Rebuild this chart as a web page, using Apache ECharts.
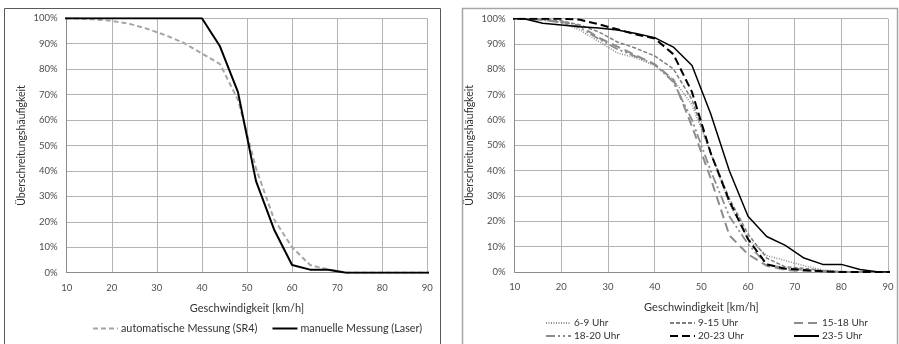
<!DOCTYPE html>
<html>
<head>
<meta charset="utf-8">
<script src="https://cdn.jsdelivr.net/npm/echarts@6/dist/echarts.min.js"></script>
<style>
  html, body { margin: 0; padding: 0; background: #fff; }
  #chart { width: 899px; height: 344px; }
</style>
</head>
<body>
<div id="chart"></div>
<script>
// Speed classes in km/h (4 km/h steps, axis shows 10–90)
const speeds = [8, 12, 16, 20, 24, 28, 32, 36, 40, 44, 48, 52, 56, 60, 64, 68, 72, 76, 80, 84, 88, 92];

// Left panel: exceedance frequency (%) by measurement method
const autoSR4   = [100, 99.9, 99.6, 99, 97.8, 95.8, 93.3, 90.3, 86.2, 82, 68, 41, 21, 10, 3, 1.3, 0, 0, 0, 0, 0, 0];
const laser     = [100, 100, 100, 100, 100, 100, 100, 100, 100, 89, 71, 36, 17, 3, 1.2, 1.2, 0, 0, 0, 0, 0, 0];

// Right panel: exceedance frequency (%) by time of day
const h6to9   = [100, 100, 99.6, 98.5, 95.5, 91, 86.5, 84.5, 81.5, 76, 66, 47, 27, 13, 6.5, 4.5, 2.5, 0.8, 0.3, 0, 0, 0];
const h9to15  = [100, 100, 99.8, 99.2, 97.5, 94.8, 90.8, 88.3, 85.3, 80.2, 68, 47, 29, 15, 5.5, 2, 1.5, 0.5, 0, 0, 0, 0];
const h15to18 = [100, 100, 99.5, 98.8, 97.2, 92.5, 89, 85.5, 82, 76, 57.5, 37, 14.5, 7, 2.5, 0.8, 0.3, 0, 0, 0, 0, 0];
const h18to20 = [100, 100, 99.5, 98.5, 96.5, 92, 88, 85, 82, 75, 60, 40, 22, 11, 3, 1.5, 0.8, 0.3, 0, 0, 0, 0];
const h20to23 = [100, 100, 100, 100, 99.6, 97.8, 95.8, 93.8, 92.2, 86, 71, 47, 28, 13, 3, 1.3, 0.8, 0.3, 0, 0, 0, 0];
const h23to5  = [100, 100, 98.2, 97.5, 96.8, 96.3, 95.5, 94.2, 92.5, 88.8, 81.5, 62.5, 40, 22, 14, 10.5, 5.5, 3, 3, 1, 0, 0];

// Axis ticks
const speedTicks = { min: 10, max: 90, interval: 10 };
const shareTicks = { min: 0, max: 100, interval: 10 };

const xTitle = 'Geschwindigkeit [km/h]';
const yTitle = 'Überschreitungshäufigkeit';

const FONT = 'Lato, "Open Sans", sans-serif';
const GRID_COLOR = '#b3b3b3';
const LABEL_COLOR = '#4d4d4d';

function pairs(values) {
  return speeds.map((s, i) => [s, values[i]]);
}

function xAxis(gridIndex) {
  return {
    type: 'value', gridIndex,
    min: speedTicks.min, max: speedTicks.max, interval: speedTicks.interval,
    name: xTitle, nameLocation: 'middle', nameGap: 30,
    nameTextStyle: { fontFamily: FONT, fontSize: 11, color: '#333' },
    axisLine: { show: true, onZero: false, lineStyle: { color: '#8c8c8c', width: 1 } },
    axisTick: { show: false },
    axisLabel: { fontFamily: FONT, fontSize: 9.5, color: LABEL_COLOR, margin: 10 },
    splitLine: { show: true, lineStyle: { color: GRID_COLOR, width: 1 } }
  };
}

function yAxis(gridIndex) {
  return {
    type: 'value', gridIndex,
    min: shareTicks.min, max: shareTicks.max, interval: shareTicks.interval,
    name: yTitle, nameLocation: 'middle', nameGap: 40, nameRotate: 90,
    nameTextStyle: { fontFamily: FONT, fontSize: 10.5, color: '#333' },
    axisLine: { show: true, lineStyle: { color: '#8c8c8c', width: 1 } },
    axisTick: { show: false },
    axisLabel: { fontFamily: FONT, fontSize: 9.5, color: LABEL_COLOR, margin: 9, formatter: '{value}%' },
    splitLine: { show: true, lineStyle: { color: GRID_COLOR, width: 1 } }
  };
}

function line(name, values, idx, style) {
  return {
    name, type: 'line', xAxisIndex: idx, yAxisIndex: idx,
    data: pairs(values), showSymbol: false, symbol: 'none',
    clip: true, animation: false,
    lineStyle: style, itemStyle: { color: style.color }
  };
}

const seriesList = [
  line('automatische Messung (SR4)', autoSR4, 0, { color: '#a6a6a6', width: 2, type: [5, 3] }),
  line('manuelle Messung (Laser)', laser, 0, { color: '#000', width: 2, type: 'solid' }),
  line('6-9 Uhr',   h6to9,   1, { color: '#8c8c8c', width: 1.5, type: [1, 1.5] }),
  line('9-15 Uhr',  h9to15,  1, { color: '#7f7f7f', width: 1.5, type: [4, 2] }),
  line('15-18 Uhr', h15to18, 1, { color: '#8c8c8c', width: 2, type: [9, 5] }),
  line('18-20 Uhr', h18to20, 1, { color: '#8c8c8c', width: 1.8, type: [9, 3, 2, 3, 2, 3] }),
  line('20-23 Uhr', h20to23, 1, { color: '#000', width: 2, type: [8, 4] }),
  line('23-5 Uhr',  h23to5,  1, { color: '#000', width: 1.5, type: 'solid' })
];

function legendAt(names, left, top, gap, size) {
  return {
    data: names, left, top, orient: 'horizontal',
    itemWidth: 25, itemHeight: 8, itemGap: gap || 10,
    itemStyle: { opacity: 0 },
    textStyle: { fontFamily: FONT, fontSize: size || 10, color: '#333', padding: [0, 0, 0, -2] },
    selectedMode: false, padding: 0
  };
}

const rightLegends = [
  ['6-9 Uhr', 545, 318], ['9-15 Uhr', 669, 318], ['15-18 Uhr', 793, 318],
  ['18-20 Uhr', 545, 331], ['20-23 Uhr', 669, 331], ['23-5 Uhr', 793, 331]
].map(([n, l, t]) => legendAt([n], l, t));

const option = {
  backgroundColor: '#fff',
  animation: false,
  graphic: [
    { type: 'rect', shape: { x: 4.5, y: 8.5, width: 436, height: 340 },
      style: { fill: 'none', stroke: '#595959', lineWidth: 1 }, silent: true, z: -1 },
    { type: 'rect', shape: { x: 462.5, y: 8.5, width: 435, height: 340 },
      style: { fill: 'none', stroke: '#a6a6a6', lineWidth: 1.5 }, silent: true, z: -1 }
  ],
  grid: [
    { left: 66.7, right: 471.7, top: 18.3, bottom: 71.3, containLabel: false },
    { left: 514.7, right: 11, top: 18.7, bottom: 72, containLabel: false }
  ],
  xAxis: [xAxis(0), xAxis(1)],
  yAxis: [yAxis(0), yAxis(1)],
  legend: [legendAt(['automatische Messung (SR4)', 'manuelle Messung (Laser)'], 92, 323, 14, 10.8)].concat(rightLegends),
  series: seriesList
};

const chart = echarts.init(document.getElementById('chart'), null, { renderer: 'canvas' });
chart.setOption(option);
</script>
</body>
</html>
